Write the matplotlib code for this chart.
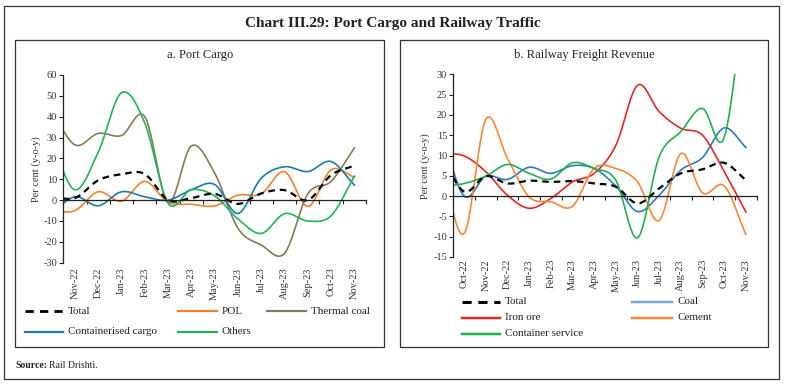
import matplotlib
matplotlib.use("Agg")
import matplotlib.pyplot as plt
import numpy as np
from matplotlib.lines import Line2D
from matplotlib.patches import Rectangle

plt.rcParams['font.family'] = ['Liberation Serif', 'DejaVu Serif']
plt.rcParams['axes.unicode_minus'] = False

# ==========================
# DATA
# first month of each panel sits just left of the axis (clipped, as in the source)
# ==========================

months_a = ["Oct-22", "Nov-22", "Dec-22", "Jan-23", "Feb-23", "Mar-23", "Apr-23",
            "May-23", "Jun-23", "Jul-23", "Aug-23", "Sep-23", "Oct-23", "Nov-23"]
total_a = [1.8, 1, 9.5, 12.4, 12.5, 0, 1, 3, -1.8, 3.2, 4.8, 0, 12, 16.5]
pol = [-5, -5, 4, -0.5, 9, -1, -2, -2.8, 2.4, 3, 13.7, -3, 14.5, 11]
thermal_coal = [43, 26.5, 32, 31, 40, -1, 26, 13, -13.5, -21.5, -25.5, 3, 9, 25]
containerised = [-6.3, 1.6, -2.7, 4, 1.6, 0, 5, 7.5, -6.4, 10.5, 16, 13.7, 18.5, 7.2]
others = [27.5, 5, 23, 51.5, 37, -1.5, 5, 2, -9, -16, -6.5, -10, -7.5, 11.5]

months_b = ["Sep-22", "Oct-22", "Nov-22", "Dec-22", "Jan-23", "Feb-23", "Mar-23", "Apr-23",
            "May-23", "Jun-23", "Jul-23", "Aug-23", "Sep-23", "Oct-23", "Nov-23"]
total_b = [9.6, 1.1, 4.9, 3.1, 3.8, 3.5, 3.7, 3.1, 2.3, -1.8, 1.9, 5.6, 6.6, 8.2, 3.9]
coal = [15, 0, 4.9, 4.1, 7.1, 5.6, 7.5, 6.8, 2.5, -3.8, 0.2, 6.4, 9.5, 16.8, 12]
iron_ore = [10.5, 9.9, 6, 0.2, -3, -0.6, 3.5, 5.6, 12.5, 27.3, 20.8, 16.7, 15, 6, -3.9]
cement = [6.5, -9.2, 18.9, 9.3, -0.2, -1.4, -2.5, 6.8, 6.8, 3.5, -6, 10.5, 0.8, 2.5, -9.4]
container_service = [2.4, 3.1, 4.9, 7.8, 5.6, 4.2, 8.2, 6.8, 3.9, -10.3, 9.7, 15.9, 21.6, 14.5, 52]

DASH = (0, (3, 2.2))
W, H = 785.0, 386.0


def smooth(y, n=24):
    # Catmull-Rom style smoothing, like Excel's "smoothed line"
    y = np.asarray(y, dtype=float)
    k = len(y)
    m = np.zeros(k)
    m[1:-1] = (y[2:] - y[:-2]) / 2
    m[0] = y[1] - y[0]
    m[-1] = y[-1] - y[-2]
    xs, ys = [], []
    t = np.linspace(0, 1, n, endpoint=False)
    h00 = 2 * t**3 - 3 * t**2 + 1
    h10 = t**3 - 2 * t**2 + t
    h01 = -2 * t**3 + 3 * t**2
    h11 = t**3 - t**2
    for i in range(k - 1):
        xs.append(i + t)
        ys.append(h00 * y[i] + h10 * m[i] + h01 * y[i + 1] + h11 * m[i + 1])
    xs.append([k - 1])
    ys.append([y[-1]])
    return np.concatenate(xs), np.concatenate(ys)


def style_axis(ax, months, ylim, ystep, pad):
    n = len(months)
    ax.set_xlim(0.5, n - 0.5)
    ax.set_ylim(*ylim)
    ax.set_yticks(np.arange(ylim[0], ylim[1] + 0.1, ystep))
    ax.spines['top'].set_visible(False)
    ax.spines['right'].set_visible(False)
    ax.spines['bottom'].set_position(('data', 0))
    for s in ('left', 'bottom'):
        ax.spines[s].set_linewidth(0.9)
        ax.spines[s].set_color('#222222')
    ax.set_xticks(np.arange(0.5, n, 1.0))
    ax.tick_params(axis='x', length=3, width=0.8, labelbottom=False, color='#222222')
    ax.tick_params(axis='y', length=3, width=0.8, labelsize=7.5, pad=1.5,
                   color='#222222', labelcolor='#333333')
    sec = ax.secondary_xaxis(0)
    sec.set_xticks(np.arange(1, n), months[1:])
    sec.tick_params(length=0, labelsize=7.5, rotation=90, pad=pad, labelcolor='#333333')
    sec.spines['bottom'].set_visible(False)
    ax.set_ylabel("Per cent (y-o-y)", fontsize=7.5, labelpad=2, color='#333333')


def legend_entry(fig, label, color, style, x0, x1, y, lw):
    fig.add_artist(Line2D([x0 / W, x1 / W], [1 - y / H, 1 - y / H], color=color,
                          linestyle=style, linewidth=lw))
    fig.text((x1 + 5) / W, 1 - y / H, label, fontsize=8, va='center', ha='left',
             color='#222222')


fig = plt.figure(figsize=(7.85, 3.86), dpi=100)

# frames
fig.add_artist(Rectangle((4 / W, 1 - 379 / H), 775 / W, 373 / H, fill=False,
                         edgecolor='#333333', linewidth=0.9, transform=fig.transFigure))
fig.add_artist(Rectangle((15 / W, 1 - 347 / H), 369 / W, 307 / H, fill=False,
                         edgecolor='#333333', linewidth=0.9, transform=fig.transFigure))
fig.add_artist(Rectangle((400 / W, 1 - 347 / H), 368 / W, 307 / H, fill=False,
                         edgecolor='#333333', linewidth=0.9, transform=fig.transFigure))

fig.text(393 / W, 1 - 23 / H, "Chart III.29: Port Cargo and Railway Traffic",
         fontsize=11, fontweight='bold', ha='center', va='center', color='#222222')
fig.text(15 / W, 1 - 365 / H, "Source:", fontsize=7, fontweight='bold',
         ha='left', va='center', color='#222222')
fig.text(49 / W, 1 - 365 / H, "Rail Drishti.", fontsize=7, ha='left', va='center',
         color='#222222')

# ==========================
# a. Port Cargo
# ==========================
ax1 = fig.add_axes([63.3 / W, 1 - 262.7 / H, 302.7 / W, 187.7 / H])
ax1.set_facecolor('none')
series_a = [
    ("Total", total_a, 'black', DASH, 1.6),
    ("POL", pol, '#F47E32', '-', 1.2),
    ("Thermal coal", thermal_coal, '#857B58', '-', 1.2),
    ("Containerised cargo", containerised, '#1F7AA6', '-', 1.2),
    ("Others", others, '#22B35A', '-', 1.2),
]
for label, vals, c, ls, lw in series_a[1:] + series_a[:1]:
    xs, ys = smooth(vals)
    ax1.plot(xs, ys, color=c, linestyle=ls, linewidth=lw)
style_axis(ax1, months_a, (-30, 60), 10, 3.5)
fig.text(200 / W, 1 - 55 / H, "a. Port Cargo", fontsize=9, ha='center', va='center',
         color='#222222')

leg_a = [(0, 25, 63, 311), (1, 178, 217, 311), (2, 267, 306, 311),
         (3, 25, 63, 332), (4, 178, 217, 332)]
for i, x0, x1, y in leg_a:
    label, vals, c, ls, lw = series_a[i]
    legend_entry(fig, label, c, ls, x0, x1, y, lw + 0.4)

# ==========================
# b. Railway Freight Revenue
# ==========================
ax2 = fig.add_axes([453.3 / W, 1 - 257 / H, 303.4 / W, 182.7 / H])
ax2.set_facecolor('none')
series_b = [
    ("Total", total_b, 'black', DASH, 1.6),
    ("Coal", coal, '#2F78C4', '-', 1.2),
    ("Iron ore", iron_ore, '#DE2A26', '-', 1.2),
    ("Cement", cement, '#F5873A', '-', 1.2),
    ("Container service", container_service, '#22B04E', '-', 1.2),
]
for label, vals, c, ls, lw in series_b[1:] + series_b[:1]:
    xs, ys = smooth(vals)
    ax2.plot(xs, ys, color=c, linestyle=ls, linewidth=lw)
style_axis(ax2, months_b, (-15, 30), 5, 1.5)
fig.text(584 / W, 1 - 55 / H, "b. Railway Freight Revenue", fontsize=9, ha='center',
         va='center', color='#222222')

leg_b = [(0, 462, 500, 302), (1, 632, 672, 302), (2, 462, 500, 318),
         (3, 632, 672, 318), (4, 462, 500, 334)]
for i, x0, x1, y in leg_b:
    label, vals, c, ls, lw = series_b[i]
    if label == "Coal":
        c = '#7FA7D9'
    legend_entry(fig, label, c, ls, x0, x1, y, lw + 0.6)

fig.savefig("out.png", dpi=100)
plt.close(fig)
